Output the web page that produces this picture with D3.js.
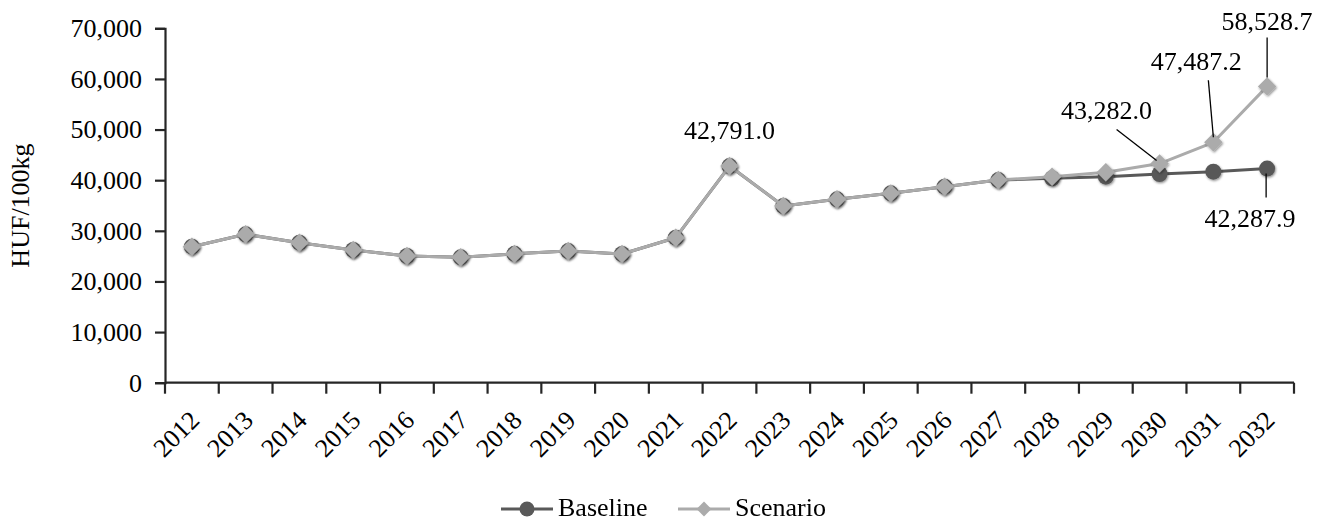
<!DOCTYPE html>
<html>
<head>
<meta charset="utf-8">
<script src="https://cdn.jsdelivr.net/npm/d3@7"></script>
<style>
  html, body { margin: 0; padding: 0; background: #fff; }
  svg { display: block; }
  text { font-family: "Liberation Serif", "Times New Roman", serif; fill: #000; }
</style>
</head>
<body>
<svg id="chart" width="1327" height="522"></svg>
<script>
const years = ["2012","2013","2014","2015","2016","2017","2018","2019","2020","2021","2022","2023","2024","2025","2026","2027","2028","2029","2030","2031","2032"];
const baseline = [26860, 29310, 27650, 26210, 25020, 24770, 25450, 26000, 25420, 28640, 42791.0, 34900, 36220, 37400, 38710, 40030, 40370, 40690, 41220, 41680, 42287.9];
const scenario = [26860, 29310, 27650, 26210, 25020, 24770, 25450, 26000, 25420, 28640, 42791.0, 34900, 36220, 37400, 38710, 40030, 40690, 41550, 43282.0, 47487.2, 58528.7];
const yTicks = [0, 10000, 20000, 30000, 40000, 50000, 60000, 70000];
const seriesNames = ["Baseline", "Scenario"];
// labelled points: [series, year]
const labelled = [
  ["Scenario", "2022"],
  ["Scenario", "2030"],
  ["Scenario", "2031"],
  ["Scenario", "2032"],
  ["Baseline", "2032"]
];

(function () {
const svg = d3.select("#chart");
const FS = 26;
const pLeft = 165, pRight = 1294, pTop = 28.3, pBottom = 382.7;

const x = d3.scaleBand().domain(years).range([pLeft, pRight]).paddingInner(0).paddingOuter(0);
const y = d3.scaleLinear().domain([0, 70000]).range([pBottom, pTop]);
const cx = d => x(d) + x.bandwidth() / 2;

const defs = svg.append("defs");
const f = defs.append("filter").attr("id", "shadow").attr("x", "-50%").attr("y", "-50%").attr("width", "200%").attr("height", "200%");
f.append("feDropShadow").attr("dx", 0.8).attr("dy", 1.2).attr("stdDeviation", 0.8).attr("flood-color", "#000").attr("flood-opacity", 0.45);

const axisColor = "#262626";

// Y axis
const yAxis = d3.axisLeft(y).tickValues(yTicks).tickSize(10).tickPadding(13)
  .tickFormat(d => d3.format(",")(d));
const gy = svg.append("g").attr("transform", `translate(${pLeft},0)`).call(yAxis);
gy.select(".domain").attr("stroke", axisColor).attr("stroke-width", 2.2);
gy.selectAll(".tick line").attr("stroke", axisColor).attr("stroke-width", 2.2);
gy.selectAll(".tick text").attr("font-size", FS).attr("font-family", "Liberation Serif").attr("fill", "#000");

// X axis: ticks at category boundaries
const gx = svg.append("g").attr("transform", `translate(0,${pBottom})`);
gx.append("line").attr("x1", pLeft).attr("x2", pRight).attr("y1", 0).attr("y2", 0)
  .attr("stroke", axisColor).attr("stroke-width", 2.2);
const boundaries = years.map(d => x(d)).concat([pRight]);
gx.selectAll("line.tk").data(boundaries).join("line").attr("class", "tk")
  .attr("x1", d => d).attr("x2", d => d).attr("y1", 0).attr("y2", 11)
  .attr("stroke", axisColor).attr("stroke-width", 2.2);
gx.selectAll("text.yl").data(years).join("text").attr("class", "yl")
  .attr("transform", d => `translate(${cx(d) + 9},${39}) rotate(-45)`)
  .attr("text-anchor", "end").attr("font-size", FS).text(d => d);

// Y axis title
svg.append("text").attr("transform", `translate(28.5,${(pTop + pBottom) / 2}) rotate(-90)`)
  .attr("text-anchor", "middle").attr("font-size", FS).text("HUF/100kg");

// Lines
const data = {
  Baseline: years.map((yr, i) => ({ yr, v: baseline[i] })),
  Scenario: years.map((yr, i) => ({ yr, v: scenario[i] }))
};
const colors = { Baseline: "#595959", Scenario: "#ababab" };
const line = d3.line().x(d => cx(d.yr)).y(d => y(d.v));

seriesNames.forEach(s => {
  svg.append("path").datum(data[s]).attr("d", line)
    .attr("fill", "none").attr("stroke", colors[s]).attr("stroke-width", 3).attr("stroke-linejoin", "round");
  const g = svg.append("g").attr("filter", "url(#shadow)");
  if (s === "Baseline") {
    g.selectAll("circle").data(data[s]).join("circle")
      .attr("cx", d => cx(d.yr)).attr("cy", d => y(d.v)).attr("r", 8)
      .attr("fill", colors[s]);
  } else {
    g.selectAll("path").data(data[s]).join("path")
      .attr("d", d3.symbol(d3.symbolSquare, 170))
      .attr("transform", d => `translate(${cx(d.yr)},${y(d.v)}) rotate(45)`)
      .attr("fill", colors[s]);
  }
});

// Data labels with leader lines (offsets relative to point)
const labelStyle = {
  "Scenario|2022": { dx: 0, dy: -27, line: null },
  "Scenario|2030": { dx: -53, dy: -45, line: [-43, -34, -3, -3] },
  "Scenario|2031": { dx: -17, dy: -72, line: [-5, -62, 0, -5] },
  "Scenario|2032": { dx: 0, dy: -56, line: [0, -49, 0, -9] },
  "Baseline|2032": { dx: -17, dy: 58, line: [-1, 5, -1, 29] }
};
const fmt = d3.format(",.1f");
labelled.forEach(([s, yr]) => {
  const i = years.indexOf(yr);
  const v = s === "Baseline" ? baseline[i] : scenario[i];
  const px = cx(yr), py = y(v);
  const st = labelStyle[s + "|" + yr];
  if (st.line) {
    svg.append("line")
      .attr("x1", px + st.line[0]).attr("y1", py + st.line[1])
      .attr("x2", px + st.line[2]).attr("y2", py + st.line[3])
      .attr("stroke", "#000").attr("stroke-width", 1.3);
  }
  svg.append("text").attr("x", px + st.dx).attr("y", py + st.dy)
    .attr("text-anchor", "middle").attr("font-size", FS).text(fmt(v));
});

// Legend
const lg = svg.append("g");
const legendItems = [
  { name: "Baseline", x0: 501, x1: 553, tx: 558 },
  { name: "Scenario", x0: 678, x1: 730, tx: 735 }
];
const ly = 509;
legendItems.forEach(it => {
  lg.append("line").attr("x1", it.x0).attr("x2", it.x1).attr("y1", ly).attr("y2", ly)
    .attr("stroke", colors[it.name]).attr("stroke-width", 3);
  const mx = (it.x0 + it.x1) / 2;
  if (it.name === "Baseline") {
    lg.append("circle").attr("cx", mx).attr("cy", ly).attr("r", 7.5).attr("fill", colors[it.name]);
  } else {
    lg.append("path").attr("d", d3.symbol(d3.symbolSquare, 110))
      .attr("transform", `translate(${mx},${ly}) rotate(45)`).attr("fill", colors[it.name]);
  }
  lg.append("text").attr("x", it.tx).attr("y", 515.5).attr("font-size", FS).text(it.name);
});
})();
</script>
</body>
</html>
